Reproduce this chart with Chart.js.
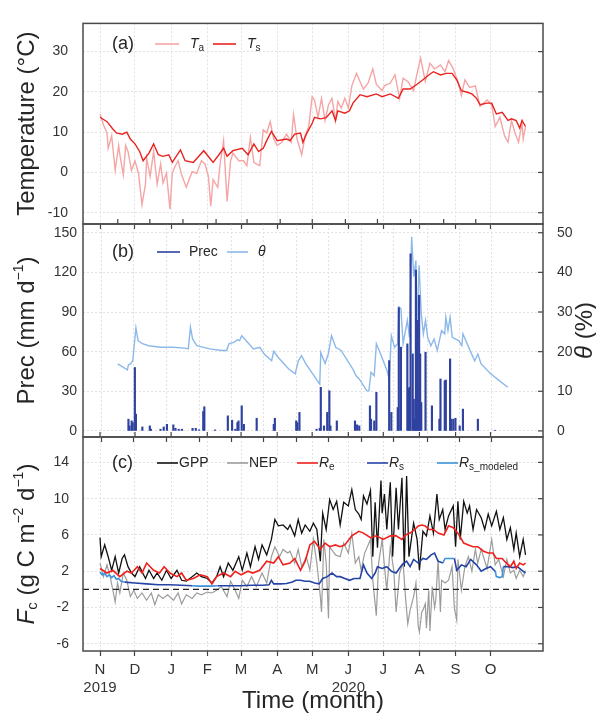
<!DOCTYPE html>
<html>
<head>
<meta charset="utf-8">
<script src="https://cdn.jsdelivr.net/npm/chart.js"></script>
<style>
  body { margin: 0; background: #fff; }
  #wrap { position: relative; width: 596px; height: 725px; }
  #wrap canvas { position: absolute; left: 0; top: 0; }
</style>
</head>
<body>
<div id="wrap">
  <canvas id="panelA" width="596" height="725"></canvas>
  <canvas id="panelB" width="596" height="725"></canvas>
  <canvas id="panelC" width="596" height="725"></canvas>
</div>
<script>
// days counted from 1 Nov 2019
const monthDays = [0, 30, 61, 92, 121, 152, 182, 213, 243, 274, 305, 335];
const monthLabels = [["N", "2019"], "D", "J", "F", "M", "A", "M", ["J", "2020"], "J", "A", "S", "O"];

// (a) temperature
const taDays = [0,3,6,7,10,13,16,17,20,22,24,27,30,33,36,39,40,43,46,49,52,54,57,60,62,64,67,70,74,79,83,87,90,93,95,97,101,103,106,109,112,114,119,123,126,129,132,134,137,140,143,146,149,152,156,160,164,166,169,173,176,179,182,184,187,190,193,196,199,202,204,207,210,213,216,220,223,226,230,234,237,242,244,249,253,257,260,264,269,272,275,279,283,287,292,296,299,303,307,310,313,317,322,326,332,336,339,343,347,350,353,356,359,362,363,365];
const taVals = [14.5,11.8,9.8,6.0,9.1,0.5,6.7,4.4,-0.6,6.7,5.2,0.5,2.9,-0.2,-8.0,-2.9,3.6,-1.0,5.2,-2.9,2.1,-2.6,-0.2,-9.1,-0.2,1.3,2.9,-0.6,-3.7,0.2,-0.2,2.9,2.1,-1.0,-8.4,-1.8,-3.7,2.1,7.9,-7.2,2.9,4.8,2.9,2.9,1.7,8.7,2.5,2.1,1.7,10.6,9.8,12.6,8.3,6.7,7.5,9.5,7.5,14.4,8.3,4.4,9.1,11.4,18.8,18.0,13.7,18.4,12.9,16.8,18.4,12.9,17.6,16.0,18.4,16.0,21.5,24.6,22.6,20.7,22.2,25.7,21.9,20.3,21.5,22.2,24.2,18.4,23.4,22.6,20.3,24.6,28.4,22.6,27.1,25.7,26.7,25.0,27.8,25.7,22.6,19.1,23.0,21.1,21.5,16.4,18.0,16.8,11.4,13.7,9.1,7.5,12.9,9.8,7.5,12.2,8.3,11.4];
const tsDays = [0,6,11,14,19,23,26,30,34,37,42,46,50,54,59,62,69,73,80,89,94,97,102,106,109,114,122,127,132,136,140,143,147,152,160,163,167,172,174,177,182,184,189,194,199,202,204,210,214,217,223,229,237,242,249,256,260,266,272,277,282,286,292,297,302,306,310,315,319,323,326,332,336,340,345,350,353,357,360,362,365];
const tsVals = [13.7,12.6,10.8,9.8,9.5,10.0,8.3,7.1,5.2,2.9,4.8,7.1,4.4,4.0,4.4,2.5,5.6,2.9,2.5,5.4,3.6,2.5,4.4,6.0,4.0,5.4,6.0,4.4,7.1,5.2,6.0,7.9,10.2,7.9,8.3,7.9,9.5,9.8,7.5,9.5,12.2,13.7,13.3,13.6,15.3,12.9,15.3,14.7,15.3,17.2,19.3,18.8,19.5,18.8,19.5,18.4,20.7,20.7,21.9,23.0,24.2,25.0,24.2,24.6,24.6,23.0,20.3,19.9,19.5,18.4,16.8,17.2,17.2,14.5,14.9,12.9,13.3,12.9,11.0,12.9,11.4];

// (b) precipitation and soil moisture
const precDays = [10,11,13,14,16,17,23,30,31,40,43,46,52,54,57,60,70,73,76,80,81,91,103,107,110,112,113,116,118,130,146,147,167,168,170,186,189,190,193,196,198,199,205,222,224,226,236,237,240,242,254,256,262,263,265,271,272,273,274,276,277,278,279,280,281,282,283,284,288,294,301,302,306,307,311,312,314,316,320,323,337,353];
const precVals = [8.9,3.8,7.6,6.3,48,12.7,3,3.8,1.3,1.3,3,5,4.6,2,1.3,1.3,2,2,0.8,14.7,18.3,0.8,11.4,8.1,1.3,6.3,7.6,19,5,9.6,5,9.6,7.6,6.3,14,1.3,2,33,3.8,14,30.4,3.8,7.6,7.6,4.6,3.8,19,8.9,7.6,29.2,53.2,14,17.7,93.3,63.4,65.9,31.7,33,134,58.3,24,8.9,121.7,83.7,25.3,102.7,58.3,21.5,59.6,19,8.9,39.3,38,38.5,54.5,8.9,8.9,9.6,3.8,16.5,8.9,0.5];
const thetaDays = [0,9,10,12,14,17,19,23,29,40,52,63,66,68,70,74,86,97,102,104,109,112,114,116,120,127,133,137,144,146,150,160,166,169,172,176,189,190,194,197,200,204,209,220,223,226,233,235,237,240,242,246,252,254,256,259,262,263,265,267,271,273,275,277,279,280,282,284,286,288,290,293,296,299,303,306,307,309,311,313,319,322,323,329,334,337,340,349,357,365];
const thetaVals = [16.9,15.4,16.7,16.9,17.7,26.0,22.8,22.0,21.5,21.1,21.1,20.9,20.7,26.2,23.2,21.5,20.7,20.3,20.3,22.0,22.4,23.0,22.8,24.0,22.8,20.7,21.1,19.4,17.7,20.1,18.6,15.6,14.4,17.7,19.0,16.9,11.8,19.8,17.0,19.4,24.0,21.1,20.3,15.6,13.9,13.1,10.1,10.1,14.8,13.9,22.0,19.4,15.2,13.1,24.0,21.1,22.0,31.3,30.8,22.0,27.9,23.6,49.0,38.9,43.0,26.2,41.8,29.6,24.5,27.9,23.6,21.5,23.2,20.3,25.3,24.5,28.7,25.3,28.7,23.6,22.8,21.5,24.5,20.7,17.7,19.4,16.9,14.4,12.7,11.0];

// (c) carbon fluxes
const gppDays = [0,1,4,7,10,13,16,19,21,24,27,30,34,39,42,46,49,53,57,61,66,70,74,79,83,87,92,96,100,103,106,110,114,119,122,126,129,133,136,139,143,147,150,153,157,161,163,167,170,173,176,180,183,186,189,191,194,197,200,203,206,209,213,216,219,222,224,226,229,232,234,236,238,241,242,244,246,249,251,254,256,259,261,263,265,269,272,274,277,280,283,286,289,291,294,296,299,303,305,307,309,312,315,317,320,323,327,330,333,336,340,343,346,349,352,355,357,360,363,365];
const gppVals = [5.7,3.6,4.9,3.6,2.1,3.6,1.8,3.4,3.8,2.5,1.8,1.4,2.5,1.2,2.1,1.2,1.8,1.0,2.1,1.2,2.1,1.0,0.9,1.4,1.8,1.4,1.2,0.7,1.4,2.5,1.4,2.9,2.1,3.6,2.1,4.0,2.5,4.7,3.3,4.9,3.8,5.5,7.7,7.0,7.1,6.6,7.1,5.9,7.7,6.2,7.1,6.4,7.3,6.6,3.1,8.4,6.6,9.9,8.8,9.7,7.1,9.6,9.2,11.0,8.8,8.3,7.7,10.3,9.4,10.9,3.6,9.6,4.6,12.0,8.4,10.5,6.6,11.8,3.6,11.2,6.6,12.3,2.5,12.5,3.6,7.3,5.5,2.1,6.4,5.9,8.1,6.2,10.5,7.7,8.8,6.6,8.1,9.2,4.7,9.7,5.5,9.7,8.4,9.2,6.6,8.8,7.9,6.6,8.3,7.0,8.6,6.6,7.9,5.5,6.8,4.4,6.2,3.6,5.5,3.8];
const nepDays = [0,3,6,9,11,13,15,17,20,23,26,29,32,36,40,44,47,50,54,58,63,67,70,74,79,83,87,92,96,100,104,109,112,116,119,122,126,130,134,139,143,147,150,154,157,161,163,167,170,173,177,180,183,186,189,190,192,194,196,197,202,206,209,213,216,219,222,224,227,232,234,237,239,242,244,246,249,252,254,257,260,262,264,266,269,271,273,274,276,277,279,280,282,283,285,287,288,290,292,293,296,299,302,304,306,307,310,313,316,319,322,324,327,332,336,339,342,346,349,352,355,357,360,363,365];
const nepVals = [2.9,1.4,2.7,1.2,-0.1,-1.4,0.7,-0.4,1.8,1.0,-0.8,-0.1,-1.0,-0.4,-1.2,-0.4,-1.7,-0.6,-1.0,-0.6,-1.2,-0.4,-1.6,-0.6,-1.0,-0.4,-0.6,-0.3,-0.4,-0.1,0.3,-0.8,0.9,-0.1,-1.0,1.0,0.3,1.4,0.3,1.8,0.7,3.6,4.7,3.6,4.4,4.0,4.2,2.9,4.4,2.5,3.6,2.1,5.5,2.9,-0.8,-2.5,5.5,2.9,-3.2,4.7,3.8,3.6,5.1,4.0,6.2,2.9,3.6,2.1,4.0,5.5,1.0,-2.9,2.9,5.5,2.5,-0.1,4.7,2.1,-2.5,1.8,2.9,-0.8,-3.8,-2.3,-0.8,0.7,-4.1,-4.7,-2.5,-2.3,-1.6,-4.3,-0.1,-4.6,0.3,-2.0,-1.2,3.3,-2.5,1.0,0.7,1.0,2.5,-2.1,-3.4,3.3,-0.1,2.5,3.6,2.0,4.4,2.9,4.4,2.3,5.5,2.7,3.3,1.4,3.3,1.8,2.1,1.2,2.1,1.4,2.1];
const reDays = [0,6,11,17,23,27,32,36,40,46,51,55,60,66,70,74,80,86,92,96,100,106,112,116,121,127,131,137,143,149,153,157,163,167,172,176,180,184,189,193,197,202,206,210,216,222,226,232,237,243,249,254,259,262,266,270,273,276,279,282,286,290,295,299,303,307,312,316,320,324,329,333,337,340,345,347,352,355,357,360,363,365];
const reVals = [2.3,1.8,2.1,1.4,2.0,1.8,2.5,1.8,2.9,2.1,1.8,2.5,1.8,1.4,1.8,1.0,1.2,1.6,1.4,0.6,1.4,1.8,1.4,2.0,1.6,2.0,1.8,2.1,3.1,2.9,3.6,2.7,2.9,3.4,2.1,3.1,4.9,5.3,4.4,5.1,4.7,4.9,4.7,4.9,5.9,6.4,6.2,5.7,5.9,5.5,5.9,5.9,5.5,6.0,6.2,6.6,7.0,7.1,7.0,6.6,6.6,6.2,6.0,7.0,6.8,6.2,5.1,4.9,4.7,4.7,4.2,4.0,4.0,3.4,3.4,3.1,2.5,3.1,2.3,2.9,2.7,2.9];
// null = no measurement (gap filled by the model series)
const rsDays = [21,30,40,50,60,70,79,80,101,110,120,130,140,145,147,149,155,160,165,168,172,176,180,184,188,191,195,199,203,206,210,214,218,223,226,229,233,236,238,242,246,250,254,259,263,266,269,273,277,280,284,287,290,294,295,304,306,310,314,318,323,327,331,335,339,340,346,350,354,358,362,365];
const rsVals = [0.8,0.7,0.6,0.5,0.5,0.45,0.4,null,0.4,0.4,0.4,0.45,0.45,0.5,1.0,0.6,0.6,0.65,0.8,1.0,1.0,0.9,0.9,0.7,0.6,1.2,1.4,1.8,1.4,1.4,1.2,1.0,1.2,1.2,2.7,1.8,1.2,1.8,2.5,2.3,2.5,2.0,1.8,2.7,3.1,2.5,3.3,2.9,3.4,3.3,3.8,4.0,3.1,2.9,null,3.4,2.1,2.7,2.5,3.3,2.7,2.0,2.3,2.5,2.0,null,2.5,2.5,2.4,2.5,2.1,1.8];
const rsModDays = [0,2,4,6,8,10,12,14,16,18,21,22,79,85,90,95,101,102,294,296,300,304,305,339,340,343,345,346];
const rsModVals = [1.9,1.6,1.8,1.4,1.6,1.3,1.5,1.1,1.2,0.9,0.8,null,0.4,0.35,0.35,0.35,0.4,null,2.9,3.4,3.4,3.4,null,2.0,1.4,1.3,1.4,2.5];

const X_MIN = -14.6, X_MAX = 380;
const FONT = '"Liberation Sans", Arial, Helvetica, sans-serif';
const TEXT = "#262626";

function pts(xs, ys) {
    return xs.map((x, i) => ({ x: x, y: ys[i] }));
}

function line(label, xs, ys, color, width) {
    return {
        type: "line", label: label, data: pts(xs, ys),
        borderColor: color, backgroundColor: color, borderWidth: width,
        pointRadius: 0, tension: 0, spanGaps: false
    };
}

function fontOf(p) {
    return (p.it ? "italic " : "") + p.size + "px " + FONT;
}

// draws a run of text pieces (italic, sub/superscripts) one after another
function drawRich(ctx, parts, x, y, rot, align) {
    ctx.save();
    ctx.translate(x, y);
    ctx.rotate(rot);
    let w = 0;
    parts.forEach(p => { ctx.font = fontOf(p); p.w = ctx.measureText(p.t).width; w += p.w; });
    let cx = align === "center" ? -w / 2 : 0;
    ctx.textBaseline = "middle";
    ctx.textAlign = "left";
    ctx.fillStyle = TEXT;
    parts.forEach(p => { ctx.font = fontOf(p); ctx.fillText(p.t, cx, p.dy || 0); cx += p.w; });
    ctx.restore();
}

function seg(ctx, x1, y1, x2, y2) {
    ctx.beginPath(); ctx.moveTo(x1, y1); ctx.lineTo(x2, y2); ctx.stroke();
}

function decor(cfg) {
    return {
        id: "decor",
        afterDraw(chart) {
            const ctx = chart.ctx, a = chart.chartArea, sc = chart.scales;
            ctx.save();
            if (cfg.zeroLine) {
                const y0 = sc.y.getPixelForValue(0);
                ctx.strokeStyle = "#222"; ctx.lineWidth = 1.3; ctx.setLineDash([6, 4]);
                seg(ctx, a.left, y0, a.right, y0);
                ctx.setLineDash([]);
            }
            ctx.strokeStyle = "#444"; ctx.lineWidth = 1.2;
            if (cfg.topTicks) {
                monthDays.forEach(d => { const x = sc.x.getPixelForValue(d); seg(ctx, x, a.top - 5, x, a.top); });
            }
            const ry = sc[cfg.rightAxis];
            ry.ticks.forEach(t => { const y = ry.getPixelForValue(t.value); seg(ctx, a.right - 5, y, a.right, y); });
            ctx.strokeStyle = "#4a4a4a"; ctx.lineWidth = 1.5;
            ctx.strokeRect(a.left, a.top, a.right - a.left, a.bottom - a.top);

            drawRich(ctx, [{ t: cfg.label, size: 18 }], 112, cfg.legendY, 0, "left");
            cfg.legend.forEach(it => {
                ctx.strokeStyle = it.color; ctx.lineWidth = 1.6;
                seg(ctx, it.x1, cfg.legendY, it.x2, cfg.legendY);
                drawRich(ctx, it.parts, it.tx, cfg.legendY, 0, "left");
            });
            const cy = (a.top + a.bottom) / 2;
            drawRich(ctx, cfg.yTitle, 27, cy, -Math.PI / 2, "center");
            if (cfg.y2Title) drawRich(ctx, cfg.y2Title, 585, cy, -Math.PI / 2, "center");
            if (cfg.xTitle) drawRich(ctx, cfg.xTitle, (a.left + a.right) / 2, 701, 0, "center");
            ctx.restore();
        }
    };
}

function xAxis(showLabels) {
    return {
        type: "linear", min: X_MIN, max: X_MAX,
        afterBuildTicks: s => { s.ticks = monthDays.map(v => ({ value: v })); },
        afterFit: s => { s.height = showLabels ? 74 : 0; },
        ticks: {
            display: showLabels, autoSkip: false, maxRotation: 0, minRotation: 0, padding: 5,
            color: "#333", font: { family: FONT, size: 15 }, callback: (v, i) => monthLabels[i]
        },
        grid: { color: "#e2e2e2", tickColor: "#444", tickLength: 5, tickWidth: 1.2 },
        border: { display: false, dash: [2, 2] }
    };
}

function yAxis(min, max, tickVals, pad, width, position, onArea) {
    return {
        type: "linear", position: position, min: min, max: max,
        afterBuildTicks: s => { s.ticks = tickVals.map(v => ({ value: v })); },
        afterFit: s => { s.width = width; },
        ticks: { autoSkip: false, padding: pad, color: "#333", font: { family: FONT, size: 14 } },
        grid: { color: "#e2e2e2", drawTicks: false, drawOnChartArea: onArea },
        border: { display: false, dash: [2, 2] }
    };
}

function baseOptions(padding, scales) {
    return {
        responsive: false, animation: false, events: [],
        layout: { padding: padding },
        plugins: { legend: { display: false }, tooltip: { enabled: false } },
        scales: scales
    };
}

const C = {
    ta: "#f5a5a5", ts: "#e8231f", prec: "#2f42a0", theta: "#8db8ea",
    gpp: "#111111", nep: "#9c9c9c", re: "#f0201c", rs: "#2443a6", rsMod: "#3d92dc"
};

// (a)
new Chart(document.getElementById("panelA"), {
    type: "line",
    data: {
        datasets: [
            line("Ts", tsDays, tsVals, C.ts, 1.4),
            line("Ta", taDays, taVals, C.ta, 1.4)
        ]
    },
    options: baseOptions({ top: 10, bottom: 501, left: 0, right: 53 }, {
        x: xAxis(false),
        y: yAxis(-12.8, 37, [-10, 0, 10, 20, 30], 15, 83, "left", true)
    }),
    plugins: [decor({
        label: "(a)", legendY: 44, rightAxis: "y",
        legend: [
            { x1: 155, x2: 179, tx: 190, color: C.ta, parts: [{ t: "T", it: true, size: 14 }, { t: "a", size: 10, dy: 4 }] },
            { x1: 213, x2: 236, tx: 247, color: C.ts, parts: [{ t: "T", it: true, size: 14 }, { t: "s", size: 10, dy: 4 }] }
        ],
        yTitle: [{ t: "Temperature (°C)", size: 24 }]
    })]
});

// (b)
new Chart(document.getElementById("panelB"), {
    data: {
        datasets: [
            { type: "bar", label: "Prec", data: pts(precDays, precVals), backgroundColor: C.prec, barThickness: 1.5, yAxisID: "y" },
            Object.assign(line("theta", thetaDays, thetaVals, C.theta, 1.4), { yAxisID: "y1" })
        ]
    },
    options: baseOptions({ top: 224, bottom: 288, left: 0, right: 0 }, {
        x: xAxis(false),
        y: yAxis(-4.6, 156.6, [0, 30, 60, 90, 120, 150], 6, 83, "left", true),
        y1: yAxis(-1.533, 52.2, [0, 10, 20, 30, 40, 50], 14, 53, "right", false)
    }),
    plugins: [decor({
        label: "(b)", legendY: 252, rightAxis: "y1", topTicks: true,
        legend: [
            { x1: 157, x2: 180, tx: 189, color: C.prec, parts: [{ t: "Prec", size: 14 }] },
            { x1: 227, x2: 248, tx: 258, color: C.theta, parts: [{ t: "θ", it: true, size: 14 }] }
        ],
        yTitle: [{ t: "Prec (mm d", size: 24 }, { t: "−1", size: 14, dy: -8 }, { t: ")", size: 24 }],
        y2Title: [{ t: "θ", it: true, size: 24 }, { t: " (%)", size: 24 }]
    })]
});

// (c)
new Chart(document.getElementById("panelC"), {
    type: "line",
    data: {
        datasets: [
            line("Re", reDays, reVals, C.re, 1.6),
            line("Rs", rsDays, rsVals, C.rs, 1.6),
            line("Rs_modeled", rsModDays, rsModVals, C.rsMod, 1.6),
            line("NEP", nepDays, nepVals, C.nep, 1.2),
            line("GPP", gppDays, gppVals, C.gpp, 1.3)
        ]
    },
    options: baseOptions({ top: 437, bottom: 0, left: 0, right: 53 }, {
        x: xAxis(true),
        y: yAxis(-6.8, 16.8, [-6, -2, 2, 6, 10, 14], 14, 83, "left", true)
    }),
    plugins: [decor({
        label: "(c)", legendY: 463, rightAxis: "y", topTicks: true, zeroLine: true,
        legend: [
            { x1: 157, x2: 178, tx: 179, color: C.gpp, parts: [{ t: "GPP", size: 14 }] },
            { x1: 227, x2: 248, tx: 249, color: C.nep, parts: [{ t: "NEP", size: 14 }] },
            { x1: 297, x2: 318, tx: 319, color: C.re, parts: [{ t: "R", it: true, size: 14 }, { t: "e", size: 10, dy: 4 }] },
            { x1: 367, x2: 388, tx: 389, color: C.rs, parts: [{ t: "R", it: true, size: 14 }, { t: "s", size: 10, dy: 4 }] },
            { x1: 437, x2: 458, tx: 459, color: C.rsMod, parts: [{ t: "R", it: true, size: 14 }, { t: "s_modeled", size: 10, dy: 4 }] }
        ],
        yTitle: [{ t: "F", it: true, size: 24 }, { t: "c", size: 15, dy: 6 }, { t: " (g C m", size: 24 },
                 { t: "−2", size: 14, dy: -8 }, { t: " d", size: 24 }, { t: "−1", size: 14, dy: -8 }, { t: ")", size: 24 }],
        xTitle: [{ t: "Time (month)", size: 24 }]
    })]
});
</script>
</body>
</html>
